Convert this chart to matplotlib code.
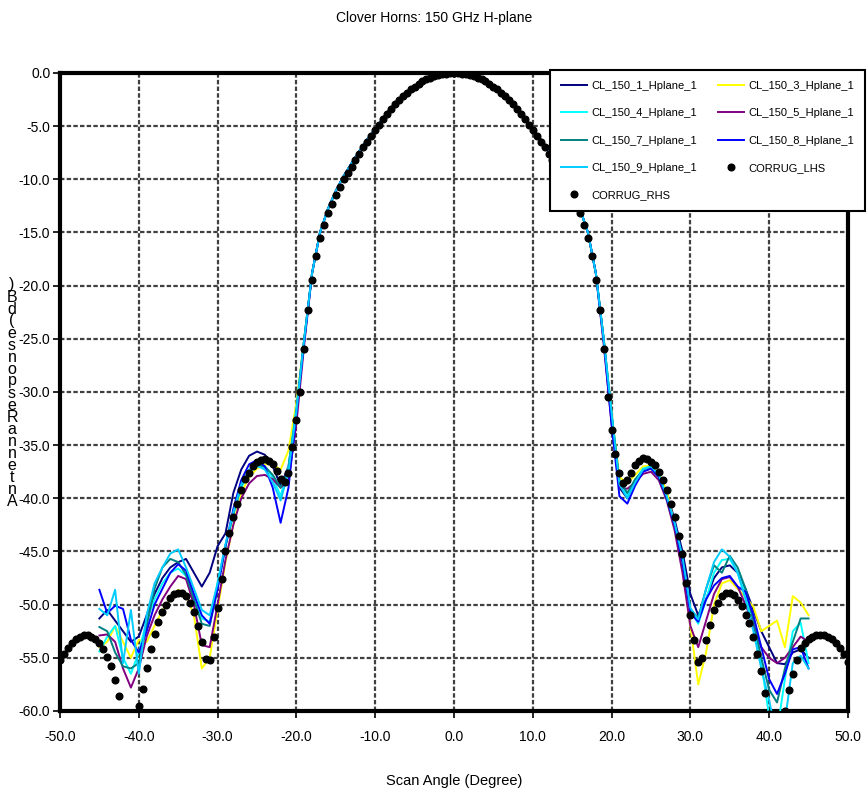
import numpy as np
import matplotlib
matplotlib.use("Agg")
import matplotlib.pyplot as plt

plt.rcParams['font.family'] = ['Liberation Sans Narrow', 'Liberation Sans', 'DejaVu Sans']

TITLE = "Clover Horns: 150 GHz H-plane"
XLABEL = "Scan Angle (Degree)"
YLABEL = "Antenna Response (dB)"

# measured horns, 1 degree steps from -45 to 45
ANGLES = np.arange(-45, 46)

# main lobe shared by all measured horns (-18 .. 18)
MAIN_LOBE = [-18.8, -15.0, -12.8, -11.1, -9.7, -8.5, -7.35, -6.25, -5.25, -4.25,
             -3.3, -2.5, -1.8, -1.25, -0.78, -0.43, -0.19, -0.05, 0.0,
             -0.05, -0.19, -0.43, -0.78, -1.25, -1.8, -2.5, -3.3, -4.25, -5.25,
             -6.25, -7.35, -8.5, -9.7, -11.1, -12.8, -15.0, -18.8]

# left wings (-45 .. -19)
CL1_L = [-51.3, -50.5, -51.5, -52.5, -53.5, -53.0, -51.0, -49.0, -47.5, -46.5,
         -46.0, -45.7, -47.0, -48.3, -47.0, -44.5, -43.3, -39.5, -37.3, -36.0,
         -35.6, -35.9, -37.0, -38.8, -37.0, -31.5, -25.0]
CL3_L = [-54.0, -53.5, -52.0, -53.5, -55.0, -53.3, -53.5, -52.0, -50.5, -49.5,
         -48.6, -49.0, -51.0, -56.0, -55.0, -50.5, -46.0, -42.5, -39.5, -38.0,
         -37.2, -36.8, -36.8, -37.3, -35.5, -31.0, -25.0]
CL4_L = [-54.4, -53.0, -52.0, -55.0, -56.5, -54.5, -51.5, -49.5, -48.0, -47.0,
         -46.6, -47.3, -49.5, -51.3, -51.6, -48.0, -44.5, -41.5, -39.0, -37.5,
         -37.0, -37.2, -38.0, -39.8, -37.0, -31.5, -25.0]
CL5_L = [-52.9, -52.8, -53.5, -56.0, -57.8, -56.0, -53.0, -51.0, -49.5, -48.3,
         -47.3, -47.6, -50.0, -53.8, -54.0, -50.0, -45.8, -42.5, -40.0, -38.6,
         -37.9, -37.8, -38.2, -39.0, -38.3, -33.0, -25.5]
CL7_L = [-52.1, -52.5, -54.5, -55.8, -56.0, -55.5, -52.0, -48.5, -46.5, -45.7,
         -46.0, -47.2, -49.5, -51.8, -52.0, -48.5, -44.5, -41.5, -38.8, -37.5,
         -36.9, -37.0, -37.8, -39.0, -37.2, -31.8, -25.0]
CL8_L = [-48.6, -50.8, -50.1, -50.4, -53.3, -54.5, -52.5, -50.0, -48.5, -47.0,
         -46.2, -46.8, -49.0, -51.0, -51.8, -48.5, -44.5, -41.0, -38.3, -36.8,
         -36.4, -37.0, -39.0, -42.3, -39.0, -32.0, -25.2]
CL9_L = [-50.4, -51.0, -48.6, -55.5, -50.5, -56.5, -51.0, -48.0, -46.5, -45.2,
         -44.8, -46.5, -48.5, -50.5, -51.0, -48.0, -44.3, -41.3, -38.7, -37.3,
         -36.9, -37.3, -38.5, -40.2, -37.5, -31.8, -25.0]

# right wings (19 .. 45)
CL1_R = [-25.0, -32.5, -39.0, -40.0, -38.5, -37.3, -37.0, -37.7, -39.5, -42.0,
         -45.0, -49.0, -51.0, -49.5, -47.5, -46.5, -46.3, -47.0, -48.5, -50.5,
         -52.5, -54.0, -55.5, -55.6, -54.5, -54.2, -55.0]
CL3_R = [-25.0, -32.0, -38.0, -38.6, -37.8, -37.0, -36.9, -37.6, -39.3, -42.5,
         -46.5, -52.0, -57.5, -54.5, -50.0, -48.0, -47.7, -48.5, -49.3, -50.2,
         -52.5, -52.0, -51.5, -54.0, -49.2, -49.8, -51.0]
CL4_R = [-25.0, -32.0, -38.5, -39.7, -38.3, -37.2, -37.0, -37.8, -39.8, -42.5,
         -46.0, -50.5, -51.8, -49.5, -47.0, -45.8, -45.7, -47.0, -49.0, -52.0,
         -55.5, -60.5, -62.0, -57.0, -52.5, -51.7, -55.5]
CL5_R = [-25.5, -33.0, -39.0, -39.1, -38.5, -37.7, -37.5, -38.3, -40.2, -43.0,
         -47.0, -52.0, -54.0, -51.5, -49.0, -47.6, -47.4, -48.3, -50.0, -52.0,
         -54.0, -55.0, -55.5, -55.0, -54.0, -53.0, -53.5]
CL7_R = [-25.0, -32.0, -38.3, -39.5, -38.2, -37.4, -37.2, -38.0, -40.0, -42.5,
         -46.0, -50.5, -51.2, -48.5, -46.3, -47.0, -45.4, -46.5, -48.5, -51.5,
         -55.0, -58.0, -59.2, -56.0, -53.5, -51.3, -51.3]
CL8_R = [-25.2, -33.0, -39.8, -40.5, -38.8, -37.5, -37.2, -38.0, -40.0, -42.5,
         -46.0, -50.8, -51.6, -49.5, -48.2, -47.5, -47.3, -48.3, -48.8, -51.0,
         -54.0, -57.0, -58.4, -56.5, -54.2, -54.0, -56.0]
CL9_R = [-25.0, -32.0, -38.7, -40.0, -38.5, -37.3, -37.0, -37.8, -39.8, -42.3,
         -45.5, -50.3, -51.4, -48.5, -46.0, -44.8, -45.5, -47.0, -49.5, -52.5,
         -56.0, -59.0, -62.5, -61.0, -55.5, -54.8, -56.0]

SERIES_NAMES = ["CL_150_1_Hplane_1", "CL_150_3_Hplane_1", "CL_150_4_Hplane_1",
                "CL_150_5_Hplane_1", "CL_150_7_Hplane_1", "CL_150_8_Hplane_1",
                "CL_150_9_Hplane_1"]
SERIES_COLORS = ["#000080", "#FFFF00", "#00FFFF", "#800080", "#008080",
                 "#0000FF", "#00CCFF"]
LEFT_WINGS = [CL1_L, CL3_L, CL4_L, CL5_L, CL7_L, CL8_L, CL9_L]
RIGHT_WINGS = [CL1_R, CL3_R, CL4_R, CL5_R, CL7_R, CL8_R, CL9_R]

# corrugated horn reference, 0.5 degree steps
LHS_ANGLES = np.arange(-50, 0.01, 0.5)
CORRUG_LHS = [-55.2, -54.6, -54.1, -53.6, -53.2, -53.0, -52.9, -52.9, -53.0, -53.2,
              -53.6, -54.2, -54.9, -55.8, -57.1, -58.6, -60.5, -62.5, -63.5, -62.0,
              -59.5, -57.9, -56.0, -54.2, -52.8, -51.6, -50.7, -50.0, -49.4, -49.0,
              -48.9, -48.9, -49.2, -49.8, -50.7, -52.0, -53.5, -55.1, -55.2, -53.0,
              -50.3, -47.6, -45.0, -43.3, -41.8, -40.5, -39.2, -38.2, -37.6, -37.0,
              -36.6, -36.4, -36.3, -36.5, -36.8, -37.4, -38.2, -38.5, -37.6, -35.2,
              -32.6, -30.0, -26.0, -22.3, -19.5, -17.2, -15.5, -14.3, -13.2, -12.3,
              -11.5, -10.7, -10.0, -9.4, -8.8, -8.2, -7.6, -7.0, -6.45, -5.9,
              -5.4, -4.85, -4.35, -3.85, -3.4, -2.95, -2.55, -2.2, -1.85, -1.55,
              -1.3, -1.0, -0.8, -0.6, -0.45, -0.3, -0.2, -0.1, -0.05, -0.02,
              0.0]
RHS_ANGLES = np.arange(0, 50.01, 0.5)
CORRUG_RHS = [0.0, -0.02, -0.05, -0.1, -0.2, -0.3, -0.45, -0.6, -0.8, -1.0,
              -1.3, -1.55, -1.85, -2.2, -2.55, -2.95, -3.4, -3.85, -4.35, -4.85,
              -5.4, -5.9, -6.45, -7.0, -7.6, -8.2, -8.8, -9.4, -10.0, -10.7,
              -11.5, -12.3, -13.2, -14.3, -15.5, -17.2, -19.5, -22.3, -26.0, -30.5,
              -33.6, -35.8, -37.6, -38.6, -38.3, -37.6, -36.9, -36.5, -36.2, -36.3,
              -36.6, -36.9, -37.5, -38.3, -39.2, -40.5, -41.8, -43.5, -45.2, -48.0,
              -51.0, -53.3, -55.4, -55.0, -53.3, -51.9, -50.5, -49.8, -49.2, -48.9,
              -48.9, -49.1, -49.6, -50.1, -51.0, -51.7, -53.0, -54.6, -56.2, -58.3,
              -60.3, -62.5, -63.5, -62.3, -60.0, -58.0, -56.5, -55.2, -54.1, -53.6,
              -53.2, -53.0, -52.9, -52.9, -52.9, -53.0, -53.2, -53.6, -54.1, -54.6,
              -55.4]

fig = plt.figure(figsize=(8.68, 7.96), dpi=100)
ax = fig.add_axes([0.0691, 0.1068, 0.9078, 0.8015])

handles = []
for name, color, left, right in zip(SERIES_NAMES, SERIES_COLORS, LEFT_WINGS, RIGHT_WINGS):
    vals = left + MAIN_LOBE + right
    h, = ax.plot(ANGLES, vals, color=color, lw=1.4, label=name, zorder=3)
    handles.append(h)

h_lhs, = ax.plot(LHS_ANGLES, CORRUG_LHS, 'o', color='black', ms=4.8, label="CORRUG_LHS", zorder=4)
h_rhs, = ax.plot(RHS_ANGLES, CORRUG_RHS, 'o', color='black', ms=4.8, label="CORRUG_RHS", zorder=4)

ax.set_xlim(-50, 50)
ax.set_ylim(-60, 0)
ax.set_xticks(np.arange(-50, 51, 10))
ax.set_yticks(np.arange(-60, 1, 5))
ax.set_xticklabels([f"{v:.1f}" for v in np.arange(-50, 51, 10)])
ax.set_yticklabels([f"{v:.1f}" for v in np.arange(-60, 1, 5)])
ax.tick_params(axis='both', direction='out', length=5, width=1.2, labelsize=10, colors='black')
ax.tick_params(axis='x', pad=9)
ax.tick_params(axis='y', pad=2)
ax.grid(True, color='#404040', lw=1.6, ls=(0, (2, 1)), zorder=1)
ax.set_axisbelow(True)
for s in ax.spines.values():
    s.set_linewidth(3)
    s.set_color('black')

ax.set_xlabel(XLABEL, fontsize=10.5, labelpad=21)
fig.text(0.5, 1 - 18 / 796, TITLE, ha='center', va='center', fontsize=10)

# stacked y label letters, read bottom to top
letters = [c for c in YLABEL if c != ' ']
fig.text(12 / 868, 1 - 393 / 796, "\n".join(reversed(letters)), ha='center', va='center',
         fontsize=11.5, linespacing=0.75)

order = [handles[0], handles[2], handles[4], handles[6], h_rhs,
         handles[1], handles[3], handles[5], h_lhs]
leg = fig.legend(order, [h.get_label() for h in order], ncol=2,
                 bbox_to_anchor=(550 / 868, 1 - 70 / 796), loc='upper left',
                 borderaxespad=0, fontsize=8, frameon=True, fancybox=False,
                 edgecolor='black', framealpha=1, labelspacing=1.55,
                 handlelength=2.3, handletextpad=0.4, columnspacing=1.9,
                 markerscale=1.0, borderpad=1.0)
leg.get_frame().set_linewidth(1.5)

fig.savefig("out.png", dpi=100)
